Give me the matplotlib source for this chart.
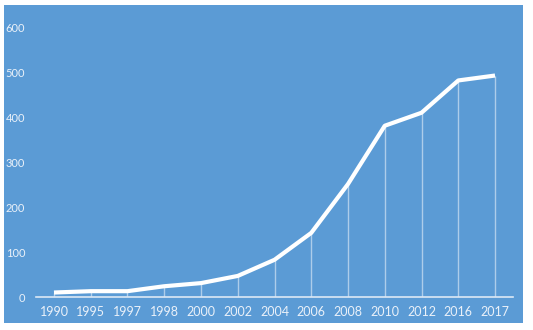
import matplotlib
matplotlib.use("Agg")
import matplotlib.pyplot as plt
from matplotlib.patches import Rectangle

years = ["1990", "1995", "1997", "1998", "2000", "2002", "2004",
         "2006", "2008", "2010", "2012", "2016", "2017"]
values = [10, 13, 13, 24, 31, 47, 83, 143, 252, 382, 411, 483, 494]
y_ticks = [0, 100, 200, 300, 400, 500, 600]

BG = "#5B9BD5"
FG = "#FFFFFF"
TXT = "#EAF1F9"

plt.rcParams["font.family"] = ["Lato", "DejaVu Sans"]

W, H = 533, 330
fig = plt.figure(figsize=(W / 100, H / 100), dpi=100)
fig.patch.set_facecolor("white")

# blue chart panel behind the axes
panel = Rectangle((4 / W, (H - 323) / H), (523 - 4) / W, (323 - 5) / H,
                  transform=fig.transFigure, facecolor=BG,
                  edgecolor="none", zorder=-10)
fig.add_artist(panel)

ax = fig.add_axes([35.6 / W, (H - 297) / H, (513.4 - 35.6) / W, (297 - 28) / H])
ax.set_zorder(5)
ax.set_facecolor("none")

x = list(range(len(years)))
ax.vlines(x, 0, values, colors=FG, linewidth=1.0, alpha=0.5, zorder=2)
ax.plot(x, values, color=FG, linewidth=3.0, solid_capstyle="butt",
        solid_joinstyle="round", zorder=3)

ax.set_xlim(-0.5, len(years) - 0.5)
ax.set_ylim(0, 600)
ax.set_xticks(x)
ax.set_xticklabels(years)
ax.set_yticks(y_ticks)
ax.set_yticklabels([str(v) for v in y_ticks])

for side in ("top", "right", "left"):
    ax.spines[side].set_visible(False)
ax.spines["bottom"].set_color("#DCE8F5")
ax.spines["bottom"].set_linewidth(1.2)

ax.tick_params(axis="x", length=0, pad=6.5, labelsize=9, labelcolor=TXT)
ax.tick_params(axis="y", length=0, pad=7.5, labelsize=8, labelcolor=TXT)

fig.savefig("out.png", dpi=100)
